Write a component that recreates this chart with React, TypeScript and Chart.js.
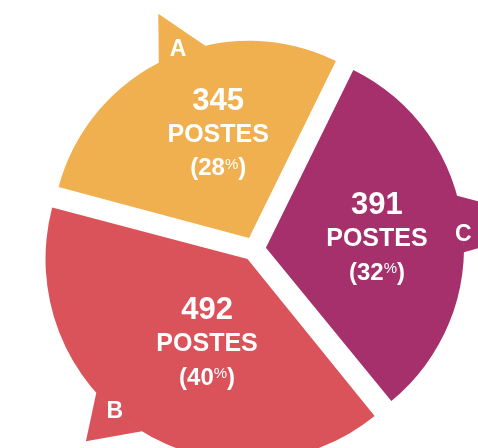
import React, { useEffect, useRef } from 'react';
import { Chart, registerables } from 'chart.js';

Chart.register(...registerables);

// ---- data ----
const categories = ['A', 'C', 'B'];
const values = [345, 391, 492];
const unitLabel = 'POSTES';
const colors = ['#F1B04F', '#A5306B', '#DA525A'];

// ---- styling / layout (angles in degrees relative to slice mid-angle, radii as ratio of slice radius) ----
const FONT = '"Liberation Sans", Arial, Helvetica, sans-serif';
const SHAPES = [
  { b1: -2.8, b2: 11.6, tip: 2.4, tipR: 1.227, letter: 4.0, letterR: 1.03, label: 8.1, labelR: 0.556 },
  { b1: -8.6, b2: 7.9, tip: 1.9, tipR: 1.51, letter: 2.1, letterR: 1.0, label: 1.15, labelR: 0.563 },
  { b1: -1.4, b2: 15.6, tip: 8.7, tipR: 1.205, letter: 8.4, letterR: 0.995, label: -6.9, labelR: 0.457 },
];

const total = values.reduce((a, b) => a + b, 0);

function drawLabel(ctx: CanvasRenderingContext2D, x: number, y: number, value: number, pct: string) {
  ctx.fillStyle = '#ffffff';
  ctx.textBaseline = 'alphabetic';
  ctx.textAlign = 'center';
  ctx.font = `bold 31px ${FONT}`;
  ctx.fillText(String(value), x, y - 34 + 0.358 * 31);
  ctx.font = `bold 25px ${FONT}`;
  ctx.fillText(unitLabel, x, y + 0.358 * 25);

  const big = 24;
  const small = 15;
  const by = y + 34 + 0.358 * big;
  const bigFont = `bold ${big}px ${FONT}`;
  const smallFont = `${small}px ${FONT}`;
  ctx.font = bigFont;
  const w1 = ctx.measureText('(' + pct).width;
  const w3 = ctx.measureText(')').width;
  ctx.font = smallFont;
  const w2 = ctx.measureText('%').width;
  let sx = x - (w1 + w2 + w3) / 2;
  ctx.textAlign = 'left';
  ctx.font = bigFont;
  ctx.fillText('(' + pct, sx, by);
  sx += w1;
  ctx.font = smallFont;
  ctx.fillText('%', sx, by - 0.716 * big + 0.716 * small);
  sx += w2;
  ctx.font = bigFont;
  ctx.fillText(')', sx, by);
}

const bubblePlugin = {
  id: 'bubbles',
  afterDatasetsDraw(chart: any) {
    const meta = chart.getDatasetMeta(0);
    const ctx: CanvasRenderingContext2D = chart.ctx;
    ctx.save();
    meta.data.forEach((arc: any, i: number) => {
      const p = arc.getProps(['x', 'y', 'startAngle', 'endAngle', 'outerRadius', 'circumference'], true);
      const off = (arc.options.offset || 0) / 4;
      const mid = (p.startAngle + p.endAngle) / 2;
      const fix = 1 - Math.sin(Math.min(Math.PI, p.circumference || 0));
      const R = p.outerRadius + off * fix;
      const cx = p.x + Math.cos(mid) * off;
      const cy = p.y + Math.sin(mid) * off;
      const pt = (d: number, r: number) => {
        const a = mid + (d * Math.PI) / 180;
        return [cx + Math.cos(a) * r, cy + Math.sin(a) * r];
      };
      const s = SHAPES[i];
      const [x1, y1] = pt(s.b1, R);
      const [x2, y2] = pt(s.b2, R);
      const [xt, yt] = pt(s.tip, R * s.tipR);
      ctx.beginPath();
      ctx.moveTo(x1, y1);
      ctx.lineTo(xt, yt);
      ctx.lineTo(x2, y2);
      ctx.arc(cx, cy, R - 0.5, mid + (s.b2 * Math.PI) / 180, mid + (s.b1 * Math.PI) / 180, true);
      ctx.closePath();
      ctx.fillStyle = arc.options.backgroundColor;
      ctx.fill();

      // category letter
      const [lx, ly] = pt(s.letter, R * s.letterR);
      ctx.fillStyle = '#ffffff';
      ctx.font = `bold 23px ${FONT}`;
      ctx.textAlign = 'center';
      ctx.textBaseline = 'alphabetic';
      ctx.fillText(categories[i], lx, ly + 0.358 * 23);

      // value label
      const [tx, ty] = pt(s.label, R * s.labelR);
      const pct = String(Math.round((values[i] / total) * 100));
      drawLabel(ctx, tx, ty, values[i], pct);
    });
    ctx.restore();
  },
};

export default function App() {
  const ref = useRef<HTMLCanvasElement | null>(null);
  useEffect(() => {
    if (!ref.current) return;
    const chart = new Chart(ref.current, {
      type: 'pie',
      data: {
        labels: categories,
        datasets: [
          {
            data: values,
            backgroundColor: colors,
            borderWidth: 0,
            offset: 48,
            clip: false as any,
          } as any,
        ],
      },
      options: {
        responsive: false,
        animation: false,
        events: [],
        rotation: -75,
        radius: 197,
        layout: { padding: { left: 30, top: 50, right: 0, bottom: 0 } },
        plugins: {
          legend: { display: false },
          tooltip: { enabled: false },
        },
      } as any,
      plugins: [bubblePlugin],
    });
    return () => chart.destroy();
  }, []);
  return (
    <div style={{ position: 'absolute', left: 0, top: 0, width: 478, height: 448, overflow: 'hidden', background: '#fff' }}>
      <canvas ref={ref} width={478} height={448} />
    </div>
  );
}
